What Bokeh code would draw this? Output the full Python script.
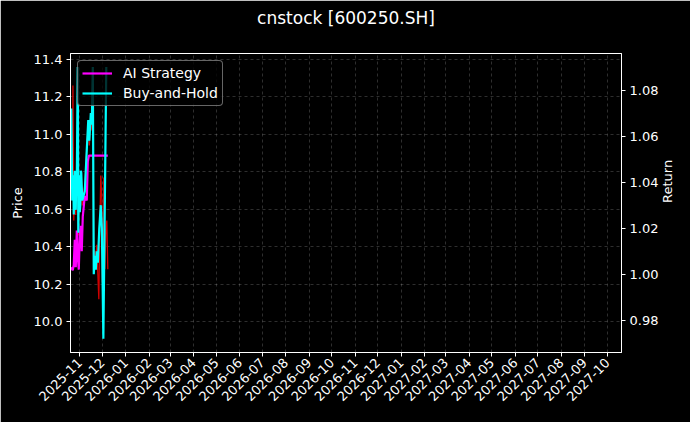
import math
import pandas as pd
from bokeh.plotting import figure
from bokeh.models import (Range1d, LinearAxis, FixedTicker, NumeralTickFormatter,
                          DatetimeTickFormatter, MonthsTicker, Legend, LegendItem, Title)
from bokeh.embed import file_html
from bokeh.resources import INLINE

# ---- data ----
price_dates = ["2025-10-20 10:00", "2025-10-22 00:00", "2025-10-22 22:00", "2025-10-24 00:00",
               "2025-10-25 07:00", "2025-10-26 15:00", "2025-10-28 00:00", "2025-10-29 07:00",
               "2025-10-30 00:00", "2025-10-31 07:00", "2025-11-01 15:00", "2025-11-02 22:00",
               "2025-11-04 07:00", "2025-11-07 14:00", "2025-11-10 05:00", "2025-11-12 05:00",
               "2025-11-13 14:00", "2025-11-15 14:00", "2025-11-16 22:00", "2025-11-18 05:00",
               "2025-11-19 12:00", "2025-11-20 22:00", "2025-11-22 05:00", "2025-11-23 12:00",
               "2025-11-24 22:00", "2025-11-26 05:00", "2025-11-27 12:00", "2025-11-28 19:00",
               "2025-11-30 05:00", "2025-11-30 19:00", "2025-12-02 05:00", "2025-12-02 19:00",
               "2025-12-04 05:00", "2025-12-05 12:00", "2025-12-06 19:00", "2025-12-08 02:00"]
price_values = [11.13, 10.65, 11.26, 10.54, 10.78, 10.57, 10.73, 11.29,
                10.46, 10.76, 10.60, 10.78, 10.62, 10.73, 10.92, 11.05,
                10.94, 11.10, 11.02, 11.32, 10.28, 10.38, 10.30, 10.41,
                10.25, 10.12, 10.49, 10.78, 10.65, 10.21, 10.38, 10.77,
                10.28, 10.49, 10.54, 10.28]

ai_dates = ["2025-10-20 10:00", "2025-10-22 16:00", "2025-10-24 00:00", "2025-10-25 07:00",
            "2025-10-26 15:00", "2025-10-28 00:00", "2025-10-29 07:00", "2025-10-30 15:00",
            "2025-10-31 23:00", "2025-11-02 07:00", "2025-11-03 14:00", "2025-11-04 22:00",
            "2025-11-07 14:00", "2025-11-10 05:00", "2025-11-11 14:00", "2025-11-12 22:00",
            "2025-12-08 02:00"]
ai_values = [1.003, 1.0017, 1.004, 1.015, 1.003, 1.019, 1.008, 1.002,
             1.017, 1.021, 1.010, 1.025, 1.034, 1.032, 1.049, 1.0515, 1.0515]

bh_dates = ["2025-10-20 16:00", "2025-10-22 00:00", "2025-10-23 08:00", "2025-10-24 00:00",
            "2025-10-24 16:00", "2025-10-25 07:00", "2025-10-26 00:00", "2025-10-26 15:00",
            "2025-10-27 08:00", "2025-10-28 00:00", "2025-10-29 07:00", "2025-10-30 00:00",
            "2025-10-30 16:00", "2025-10-31 07:00", "2025-11-01 00:00", "2025-11-01 15:00",
            "2025-11-02 08:00", "2025-11-02 22:00", "2025-11-04 07:00", "2025-11-07 14:00",
            "2025-11-10 05:00", "2025-11-12 05:00", "2025-11-13 14:00", "2025-11-15 14:00",
            "2025-11-16 22:00", "2025-11-18 05:00", "2025-11-19 12:00", "2025-11-20 22:00",
            "2025-11-22 05:00", "2025-11-23 12:00", "2025-11-24 22:00", "2025-11-26 19:00",
            "2025-11-28 19:00", "2025-11-30 05:00", "2025-12-02 05:00", "2025-12-06 02:00"]
bh_values = [1.072, 1.032, 1.043, 1.026, 1.038, 1.045, 1.030, 1.028,
             1.044, 1.041, 1.090, 1.018, 1.040, 1.043, 1.027, 1.030,
             1.045, 1.044, 1.032, 1.036, 1.054, 1.067, 1.058, 1.070,
             1.065, 1.090, 1.000, 1.008, 1.002, 1.010, 1.005, 1.020,
             1.030, 1.020, 0.972, 1.090]

price_ticks = [10.0, 10.2, 10.4, 10.6, 10.8, 11.0, 11.2, 11.4]
return_ticks = [0.98, 1.00, 1.02, 1.04, 1.06, 1.08]
x_start, x_end = "2025-10-19 16:00", "2027-10-19 16:00"
price_lim = (9.836, 11.431)
return_lim = (0.966, 1.0959)

title_text = "cnstock [600250.SH]"
FONT = "DejaVu Sans"

p = figure(width=690, height=422, x_axis_type="datetime", output_backend="svg",
           toolbar_location=None,
           x_range=Range1d(pd.Timestamp(x_start), pd.Timestamp(x_end)),
           y_range=Range1d(*price_lim),
           min_border_left=70, min_border_right=69, min_border_top=53, min_border_bottom=70)
p.extra_y_ranges = {"ret": Range1d(*return_lim)}

p.background_fill_color = "black"
p.border_fill_color = "black"
p.outline_line_color = "white"
p.outline_line_width = 1

p.title.text = title_text
p.title.align = "center"
p.title.vertical_align = "top"
p.title.standoff = 0
p.title.text_color = "white"
p.title.text_font = FONT
p.title.text_font_size = "17px"
p.title.text_font_style = "normal"

# empty spacer between the title and the plot frame
spacer = Title(text=" ", text_font=FONT, text_font_size="17px", standoff=2,
               text_color="black")
p.add_layout(spacer, "above")

# lines
p.line(pd.to_datetime(price_dates), price_values, color="#d00000", line_width=1.3)
r_ai = p.line(pd.to_datetime(ai_dates), ai_values, color="#ff00ff", line_width=2.2,
              y_range_name="ret")
r_bh = p.line(pd.to_datetime(bh_dates), bh_values, color="#00ffff", line_width=2.2,
              y_range_name="ret")

# axes
right = LinearAxis(y_range_name="ret", axis_label="Return")
p.add_layout(right, "right")

p.yaxis[0].ticker = FixedTicker(ticks=price_ticks)
p.yaxis[0].formatter = NumeralTickFormatter(format="0.0")
p.yaxis[0].axis_label = "Price"
right.ticker = FixedTicker(ticks=return_ticks)
right.formatter = NumeralTickFormatter(format="0.00")
right.axis_label_orientation = math.pi / 2

p.xaxis.ticker = MonthsTicker(months=list(range(1, 13)))
p.xaxis.formatter = DatetimeTickFormatter(months="%Y-%m", days="%Y-%m", years="%Y-%m")
p.xaxis.major_label_orientation = math.pi / 4

for ax in [p.xaxis[0], p.yaxis[0], right]:
    ax.axis_line_color = "white"
    ax.major_tick_line_color = "white"
    ax.major_tick_out = 4
    ax.major_tick_in = 0
    ax.minor_tick_line_color = None
    ax.major_label_text_color = "white"
    ax.major_label_text_font = FONT
    ax.major_label_text_font_size = "13px"
    ax.major_label_standoff = 4
    ax.axis_label_text_color = "white"
    ax.axis_label_text_font = FONT
    ax.axis_label_text_font_size = "13px"
    ax.axis_label_text_font_style = "normal"
    ax.axis_label_standoff = 6

# grid
for g in [p.xgrid[0], p.ygrid[0]]:
    g.grid_line_color = "white"
    g.grid_line_alpha = 0.3
    g.grid_line_dash = "3 3"
    g.grid_line_width = 0.6

legend = Legend(items=[LegendItem(label="AI Strategy", renderers=[r_ai]),
                       LegendItem(label="Buy-and-Hold", renderers=[r_bh])],
                location="top_left")
legend.background_fill_color = "black"
legend.background_fill_alpha = 0.8
legend.border_line_color = "#cccccc"
legend.border_radius = 4
legend.label_text_color = "white"
legend.label_text_font = FONT
legend.label_text_font_size = "14px"
legend.glyph_width = 30
legend.glyph_height = 16
legend.label_height = 16
legend.label_standoff = 11
legend.padding = 4
legend.spacing = 4
legend.margin = 7
p.add_layout(legend, "center")

html = file_html(p, INLINE)
html = html.replace("<body>", '<body style="background-color:#000000;">', 1)
open("out.html", "w").write(html)
